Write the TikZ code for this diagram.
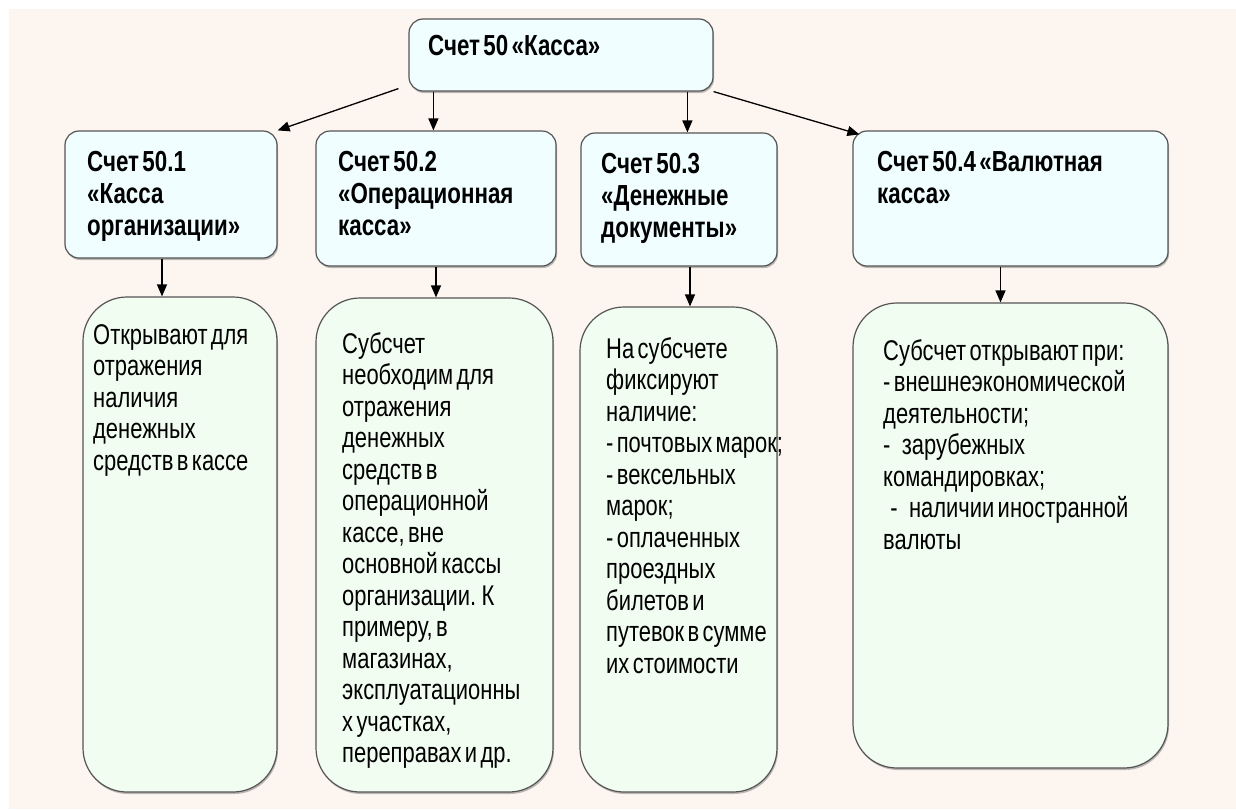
\documentclass[tikz,border=0pt]{standalone}
\usepackage{fontspec}
\setmainfont{Liberation Sans}[FakeStretch=0.77, WordSpace=0.55]
\usetikzlibrary{arrows.meta,shadows}
\definecolor{bgpeach}{RGB}{253,245,240}
\definecolor{headfill}{RGB}{240,254,255}
\definecolor{bodyfill}{RGB}{242,253,242}
\definecolor{edge}{RGB}{85,85,85}
\tikzset{
  x=1pt, y=-1pt,
  shade/.style={drop shadow={shadow xshift=1pt, shadow yshift=-2pt, fill=black!45, opacity=0.6}},
  headbox/.style={draw=edge, line width=1.2pt, fill=headfill, rounded corners=14pt, inner sep=0pt, shade},
  bodybox/.style={draw=edge, line width=1.2pt, fill=bodyfill, rounded corners=44pt, inner sep=0pt, shade},
  headtxt/.style={anchor=north west, inner sep=0pt, align=left, font=\fontsize{29}{31.8}\selectfont\bfseries},
  bodytxt/.style={anchor=north west, inner sep=0pt, align=left, font=\fontsize{28.5}{31.5}\selectfont},
  conn/.style={line width=1.3pt, -{Triangle[length=12pt,width=10pt]}},
}
\newcommand{\boxat}[6]{% style, name, x1, y1, x2, y2
  \node[#1, minimum width=#5pt-#3pt, minimum height=#6pt-#4pt] (#2) at ({(#3+#5)/2},{(#4+#6)/2}) {};}
\begin{document}
\begin{tikzpicture}
\useasboundingbox (0,0) rectangle (1236,809);
\fill[white] (0,0) rectangle (1236,809);
\fill[bgpeach] (9,9) rectangle (1236,809);

% header boxes
\boxat{headbox}{top}{409}{19}{713}{91}
\boxat{headbox}{h1}{65}{131}{277}{258}
\boxat{headbox}{h2}{316}{131}{556}{266}
\boxat{headbox}{h3}{581}{133}{777}{266}
\boxat{headbox}{h4}{853}{131}{1168}{266}

% body boxes
\boxat{bodybox}{b1}{83}{297}{277}{792}
\boxat{bodybox}{b2}{316}{298}{553}{792}
\boxat{bodybox}{b3}{580}{307}{777}{792}
\boxat{bodybox}{b4}{853}{303}{1168}{768}

% texts
\node[headtxt] (ttop) at (428,35) {Счет 50 «Касса»};
\node[headtxt] (th1) at (87,151) {Счет 50.1\\«Касса\\организации»};
\node[headtxt] (th2) at (338,151) {Счет 50.2\\«Операционная\\касса»};
\node[headtxt] (th3) at (601,153) {Счет 50.3\\«Денежные\\документы»};
\node[headtxt] (th4) at (877,151) {Счет 50.4 «Валютная\\касса»};

\node[bodytxt] (tb1) at (93,324) {Открывают для\\отражения\\наличия\\денежных\\средств в кассе};
\node[bodytxt] (tb2) at (342,332) {Субсчет\\необходим для\\отражения\\денежных\\средств в\\операционной\\кассе, вне\\основной кассы\\организации. К\\примеру, в\\магазинах,\\эксплуатационны\\х участках,\\переправах и др.};
\node[bodytxt] (tb3) at (606,337) {На субсчете\\фиксируют\\наличие:\\- почтовых марок;\\- вексельных\\марок;\\- оплаченных\\проездных\\билетов и\\путевок в сумме\\их стоимости};
\node[bodytxt] (tb4) at (883,339) {Субсчет открывают при:\\- внешнеэкономической\\деятельности;\\-\hspace{0.4em}зарубежных\\командировках;\\\hspace{0.25em}-\hspace{0.4em}наличии иностранной\\валюты};

% connectors
\draw[conn] (top.south west) ++(-10,-3) coordinate (s1) -- (h1.north east);
\draw[conn] (top.south west -| h2.north west) ++(118,0) coordinate (s2a) -- (s2a |- h2.north);
\draw[conn] (top.south west) ++(279,0) coordinate (s3) -- (s3 |- h3.north);
\draw[conn] (top.south east) -- ([shift={(7,4)}]h4.north west);
\draw[conn] (h1.south) ++(-9,0) coordinate (s5) -- (s5 |- b1.north);
\draw[conn] (h2.south) ++(0,0) coordinate (s6) -- (s6 |- b2.north);
\draw[conn] (h3.south) ++(11,0) coordinate (s7) -- (s7 |- b3.north);
\draw[conn] (h4.south) ++(-10,0) coordinate (s8) -- (s8 |- b4.north);
\end{tikzpicture}
\end{document}
